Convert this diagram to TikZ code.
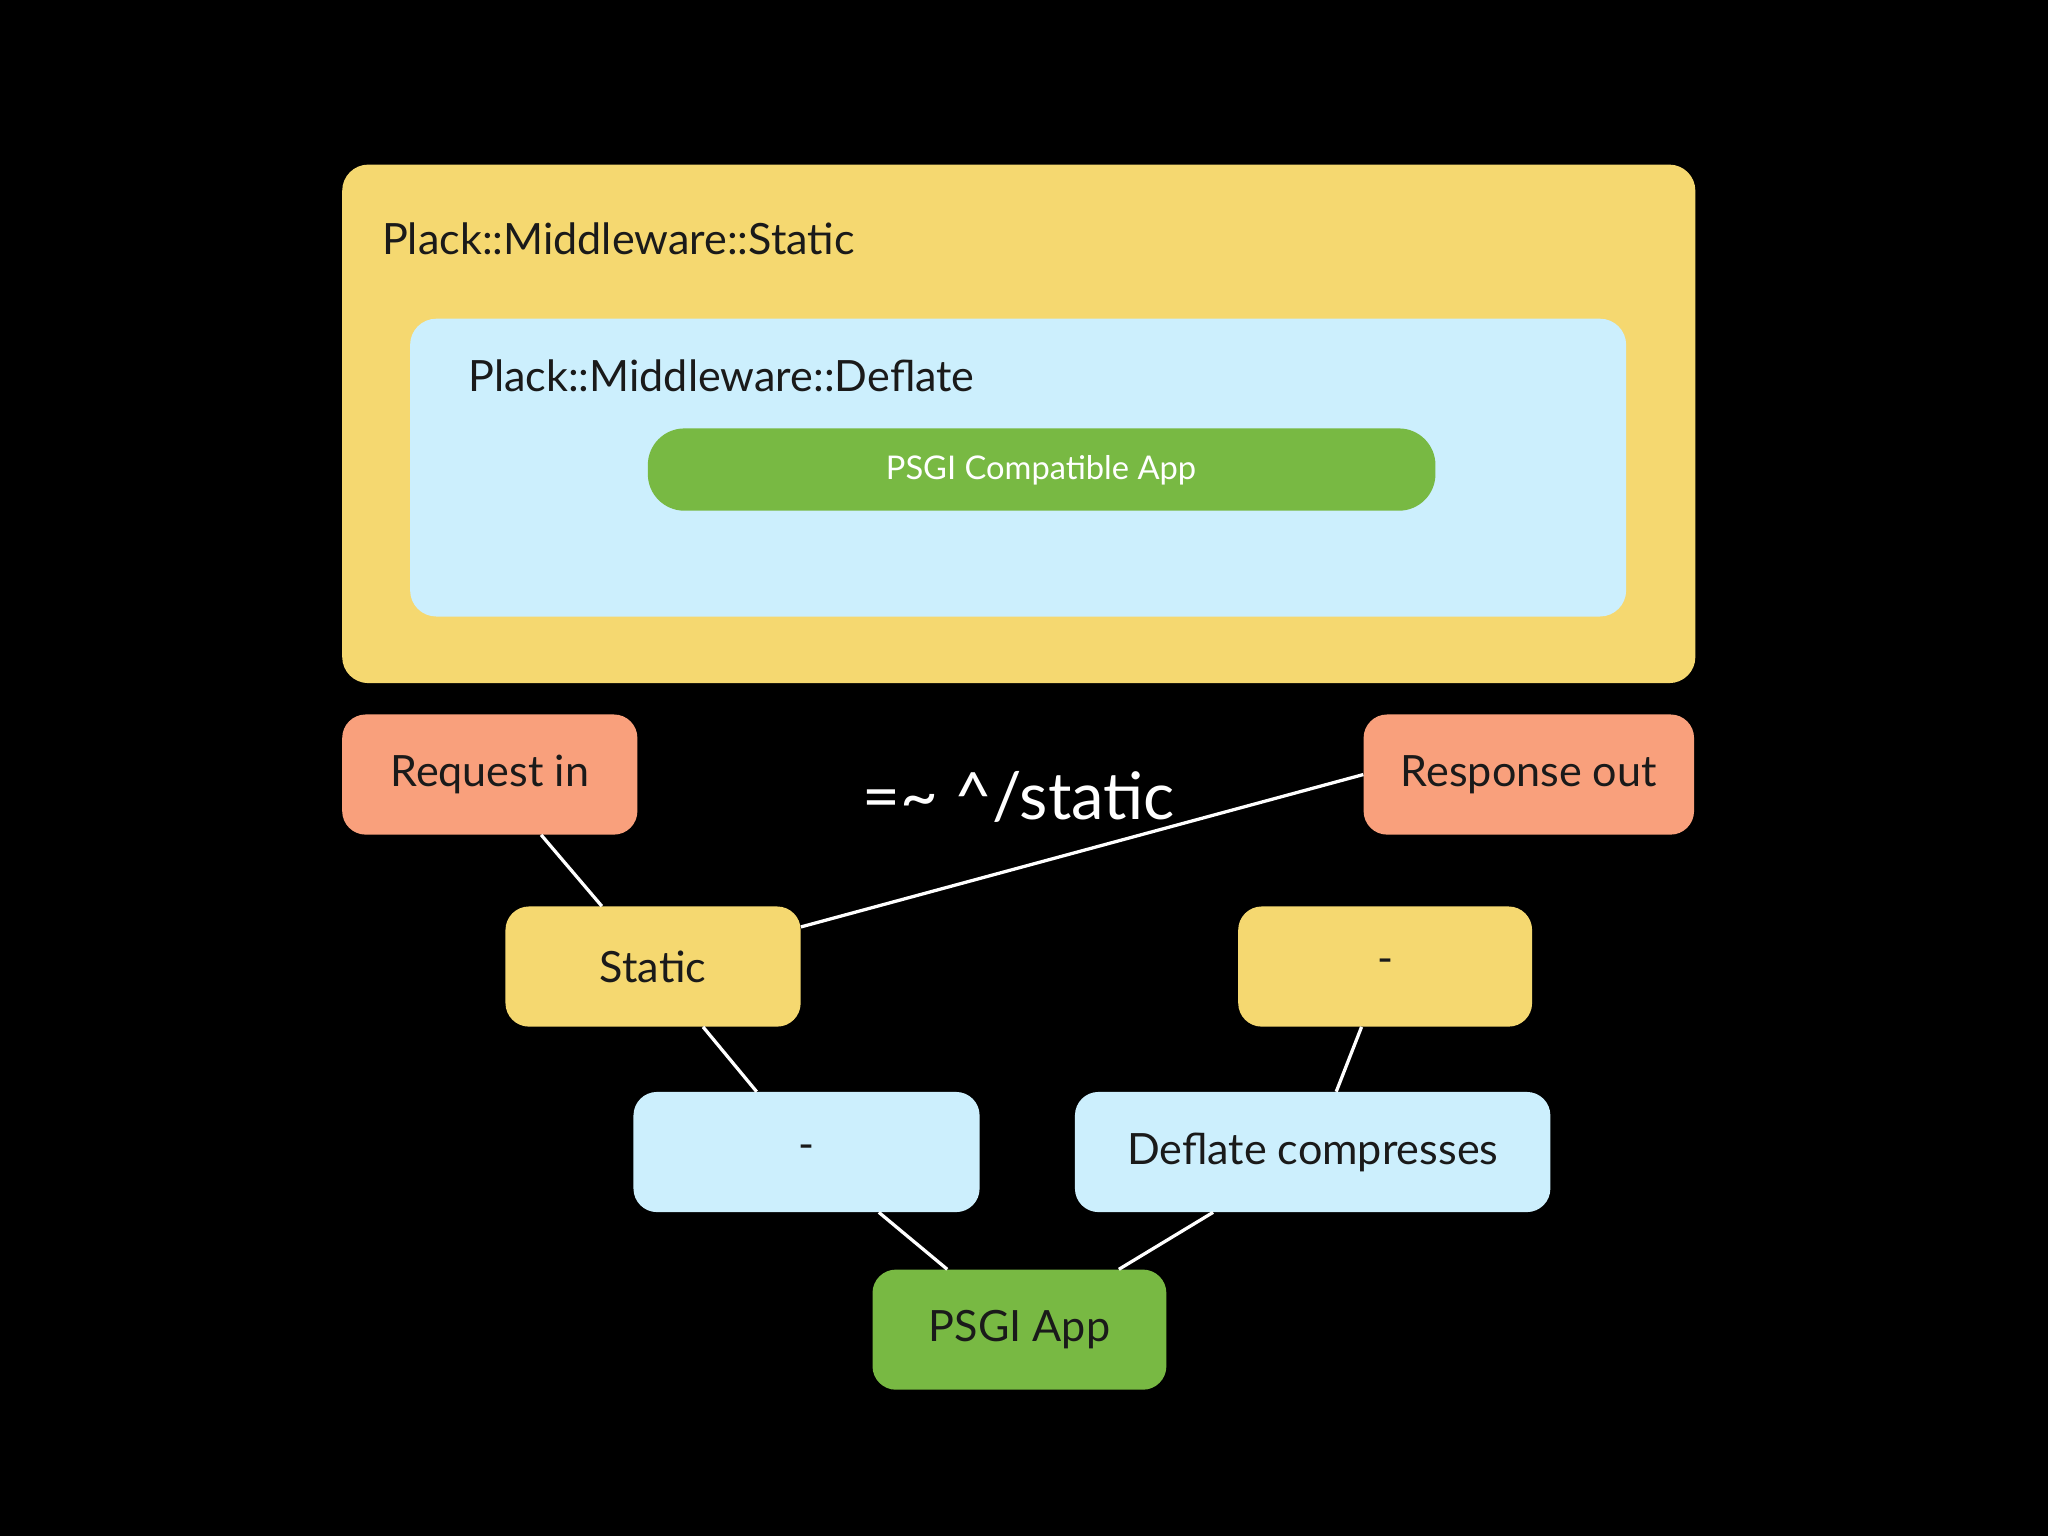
\documentclass[tikz,border=0pt]{standalone}
\usepackage{fontspec}
\setmainfont{Lato}
\definecolor{ylw}{HTML}{F5D870}
\definecolor{lblue}{HTML}{CCEFFD}
\definecolor{grn}{HTML}{78B943}
\definecolor{salmon}{HTML}{F9A07C}
\definecolor{ink}{HTML}{1A1A1A}
\begin{document}
\begin{tikzpicture}[x=1pt,y=-1pt,
  box/.style={rounded corners=18pt,minimum width=#1,minimum height=92pt,inner sep=0pt,text=ink,font=\fontsize{33}{36}\selectfont},
  wire/.style={draw=white,line width=2.5pt}]
\fill[black] (0,0) rectangle (1568,1176);
\useasboundingbox (0,0) rectangle (1568,1176);
\fill[ylw,rounded corners=20pt] (262,126) rectangle (1298,523);
\node[anchor=west,text=ink,font=\fontsize{33}{36}\selectfont] (t1) at (289,183) {Plack::Middleware::Static};
\fill[lblue,rounded corners=20pt] (314,244) rectangle (1245,472);
\node[anchor=west,text=ink,font=\fontsize{33}{36}\selectfont] (t2) at (355,288) {Plack::Middleware::Deflate};
\fill[grn,rounded corners=28pt] (496,328) rectangle (1099,391);
\node[text=white,font=\fontsize{25}{28}\selectfont] (pca) at (797,360) {PSGI Compatible App};

\node[box=226pt,fill=salmon] (req) at (375,593) {Request in};
\node[box=253pt,fill=salmon] (resp) at (1170.5,593) {Response out};
\node[box=226pt,fill=ylw] (st) at (500,740) {Static};
\node[box=225pt,fill=ylw] (ym) at (1060.5,740) {-};
\node[box=265pt,fill=lblue] (bm) at (617.5,882) {-};
\node[box=364pt,fill=lblue] (dc) at (1005,882) {Deflate compresses};
\node[box=225pt,fill=grn] (app) at (780.5,1018) {PSGI App};
\node[text=white,font=\fontsize{50}{54}\selectfont] (re) at (780,610) {=\char"007E{} \char"005E/static};

\draw[wire] (req) -- (st);
\draw[wire] (resp.west) -- (st.15);
\draw[wire] (st) -- (bm);
\draw[wire] (ym) -- (dc);
\draw[wire] (bm) -- (app);
\draw[wire] (dc) -- (app);
\end{tikzpicture}
\end{document}
